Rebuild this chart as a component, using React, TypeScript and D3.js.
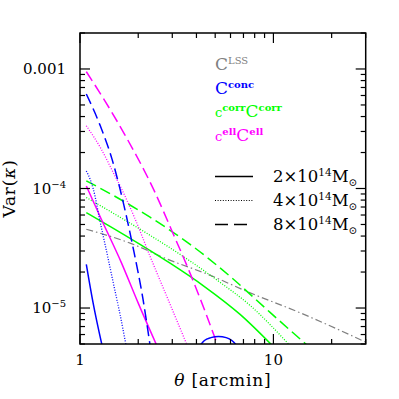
import * as d3 from "d3";

// theta [arcmin], Var(kappa)
const lss = [[1.078, 4.56e-5], [1.843, 3.46e-5], [2.85, 2.55e-5], [4.59, 1.91e-5], [7.58, 1.34e-5], [13.7, 9.14e-6], [29.8, 5.21e-6]];

const conc2 = [[1.078, 2.32e-5], [1.168, 1.11e-5], [1.299, 4.9e-6]];
const conc2Bump = [[4.15, 4.8e-6], [4.4, 5.35e-6], [4.75, 5.65e-6], [5.2, 5.78e-6], [5.7, 5.65e-6], [6.1, 5.35e-6], [6.5, 4.8e-6]];
const conc4 = [[1.078, 1.4e-4], [1.127, 1.2e-4], [1.172, 9.87e-5], [1.269, 5.32e-5], [1.379, 2.87e-5], [1.499, 1.52e-5], [1.611, 8.83e-6], [1.729, 4.9e-6]];
const conc8 = [[1.078, 6.17e-4], [1.269, 3.39e-4], [1.464, 1.76e-4], [1.611, 9.87e-5], [1.88, 3.22e-5], [2.118, 1.18e-5], [2.302, 4.9e-6]];

const corr2 = [[1.078, 6.29e-5], [1.429, 4.83e-5], [2.044, 3.41e-5], [2.922, 2.37e-5], [4.381, 1.52e-5], [6.726, 8.84e-6], [9.81, 4.9e-6]];
const corr4 = [[1.078, 8.41e-5], [1.611, 5.75e-5], [2.302, 4.06e-5], [3.71, 2.47e-5], [5.3, 1.64e-5], [7.58, 1.05e-5], [12.1, 4.9e-6]];
const corr8 = [[1.078, 1.16e-4], [1.611, 8.13e-5], [2.302, 5.75e-5], [3.71, 3.41e-5], [5.97, 1.84e-5], [9.61, 9.19e-6], [14.9, 4.9e-6]];

const ell2 = [[1.078, 1.05e-4], [1.289, 5.53e-5], [1.636, 2.4e-5], [1.995, 1.11e-5], [2.488, 4.9e-6]];
const ell4 = [[1.078, 3.35e-4], [1.289, 2.13e-4], [1.499, 1.32e-4], [1.643, 9.87e-5], [1.949, 5.32e-5], [2.302, 2.71e-5], [2.853, 1.18e-5], [3.577, 4.9e-6]];
const ell8 = [[1.078, 9.49e-4], [1.347, 5.39e-4], [1.709, 2.8e-4], [2.443, 9.26e-5], [2.992, 4.39e-5], [3.71, 1.95e-5], [4.433, 9.37e-6], [5.145, 4.9e-6]];

const massLabels = ["2", "4", "8"];

const GRAY = "#808080";
const BLUE = "#0000ff";
const GREEN = "#00ff00";
const MAGENTA = "#ff00ff";

const SOLID = null;
const DOTTED = "1 1.6";
const DASHED = "11 5";
const DASHDOT = "7 3 1.5 3";

const series = [
  { data: lss, color: GRAY, dash: DASHDOT, w: 1.2 },
  { data: corr2, color: GREEN, dash: SOLID, w: 1.5 },
  { data: corr4, color: GREEN, dash: DOTTED, w: 1.3 },
  { data: corr8, color: GREEN, dash: DASHED, w: 1.5 },
  { data: ell2, color: MAGENTA, dash: SOLID, w: 1.5 },
  { data: ell4, color: MAGENTA, dash: DOTTED, w: 1.3 },
  { data: ell8, color: MAGENTA, dash: DASHED, w: 1.5 },
  { data: conc2, color: BLUE, dash: SOLID, w: 1.5 },
  { data: conc2Bump, color: BLUE, dash: SOLID, w: 1.5 },
  { data: conc4, color: BLUE, dash: DOTTED, w: 1.3 },
  { data: conc8, color: BLUE, dash: DASHED, w: 1.5 },
];

const FONT = "DejaVu Serif";

export default function App() {
  const left = 80, right = 365.7, top = 33, bottom = 344;
  const x = d3.scaleLog().domain([1, 30]).range([left, right]);
  const y = d3.scaleLog().domain([5e-6, 2e-3]).range([bottom, top]);

  const line = d3
    .line<number[]>()
    .x((d) => x(d[0]))
    .y((d) => y(d[1]))
    .curve(d3.curveMonotoneX);

  const isMajor = (v: number) => Math.abs(Math.log10(v) - Math.round(Math.log10(v))) < 1e-6;
  const xTicks = x.ticks();
  const yTicks = y.ticks();

  const yLabel = (v: number) => {
    const e = Math.round(Math.log10(v));
    if (e === -3) return <tspan>0.001</tspan>;
    return (
      <>
        <tspan>10</tspan>
        <tspan dy={-6} fontSize={10}>{"\u2212" + Math.abs(e)}</tspan>
      </>
    );
  };

  const legendDash = [SOLID, DOTTED, "13 6"];

  return (
    <div style={{ position: "absolute", left: 0, top: 0 }}>
      <svg width={399} height={399} style={{ display: "block", background: "#fff" }} fontFamily={FONT}>
        <defs>
          <clipPath id="plot">
            <rect x={left} y={top} width={right - left} height={bottom - top} />
          </clipPath>
        </defs>

        <g clipPath="url(#plot)" fill="none">
          {series.map((s, i) => (
            <path
              key={i}
              d={line(s.data) || ""}
              stroke={s.color}
              strokeWidth={s.w}
              strokeDasharray={s.dash || undefined}
            />
          ))}
        </g>

        {/* frame */}
        <rect x={left} y={top} width={right - left} height={bottom - top} fill="none" stroke="#000" strokeWidth={1.5} />

        {/* x ticks, bottom and top */}
        {xTicks.map((t, i) => {
          const len = isMajor(t) ? 10 : 5;
          return (
            <g key={"x" + i} stroke="#000" strokeWidth={1.2}>
              <line x1={x(t)} x2={x(t)} y1={bottom} y2={bottom - len} />
              <line x1={x(t)} x2={x(t)} y1={top} y2={top + len} />
            </g>
          );
        })}
        {xTicks.filter(isMajor).map((t, i) => (
          <text key={"xl" + i} x={x(t)} y={365} textAnchor="middle" fontSize={15}>
            {String(t)}
          </text>
        ))}

        {/* y ticks, left and right */}
        {yTicks.map((t, i) => {
          const len = isMajor(t) ? 10 : 5;
          return (
            <g key={"y" + i} stroke="#000" strokeWidth={1.2}>
              <line x1={left} x2={left + len} y1={y(t)} y2={y(t)} />
              <line x1={right} x2={right - len} y1={y(t)} y2={y(t)} />
            </g>
          );
        })}
        {yTicks.filter(isMajor).map((t, i) => (
          <text key={"yl" + i} x={66} y={y(t) + 5} textAnchor="end" fontSize={15}>
            {yLabel(t)}
          </text>
        ))}

        {/* axis titles */}
        <text x={222.8} y={386} textAnchor="middle" fontSize={17} letterSpacing={0.8}>
          <tspan fontStyle="italic">θ</tspan> [arcmin]
        </text>
        <text transform={`translate(15,${(top + bottom) / 2}) rotate(-90)`} textAnchor="middle" fontSize={17} letterSpacing={0.8}>
          Var(<tspan fontStyle="italic">κ</tspan>)
        </text>

        {/* colour legend */}
        <g fontSize={17}>
          <text x={215} y={70} fill={GRAY}>
            C<tspan dy={-6} fontSize={10}>LSS</tspan>
          </text>
          <text x={215} y={93.5} fill={BLUE}>
            C<tspan dy={-6} fontSize={10} fontWeight="bold">conc</tspan>
          </text>
          <text x={215} y={117} fill={GREEN}>
            <tspan fontSize={13}>c</tspan>
            <tspan dy={-6} fontSize={10} fontWeight="bold">corr</tspan>
            <tspan dy={6}>C</tspan>
            <tspan dy={-6} fontSize={10} fontWeight="bold">corr</tspan>
          </text>
          <text x={215} y={141} fill={MAGENTA}>
            <tspan fontSize={13}>c</tspan>
            <tspan dy={-6} fontSize={10} fontWeight="bold">ell</tspan>
            <tspan dy={6}>C</tspan>
            <tspan dy={-6} fontSize={10} fontWeight="bold">ell</tspan>
          </text>
        </g>

        {/* line-style legend */}
        {massLabels.map((m, i) => {
          const ly = 176.5 + i * 24;
          return (
            <g key={"m" + i}>
              <line
                x1={215}
                x2={253}
                y1={ly}
                y2={ly}
                stroke="#000"
                strokeWidth={i === 1 ? 1 : 1.3}
                strokeDasharray={legendDash[i] || undefined}
              />
              <text x={273} y={ly + 5.5} fontSize={16.5}>
                {m}×10<tspan dy={-6} fontSize={10.5}>14</tspan>
                <tspan dy={6}>M</tspan>
                <tspan dy={4} fontSize={10.5}>⊙</tspan>
              </text>
            </g>
          );
        })}
      </svg>
    </div>
  );
}
